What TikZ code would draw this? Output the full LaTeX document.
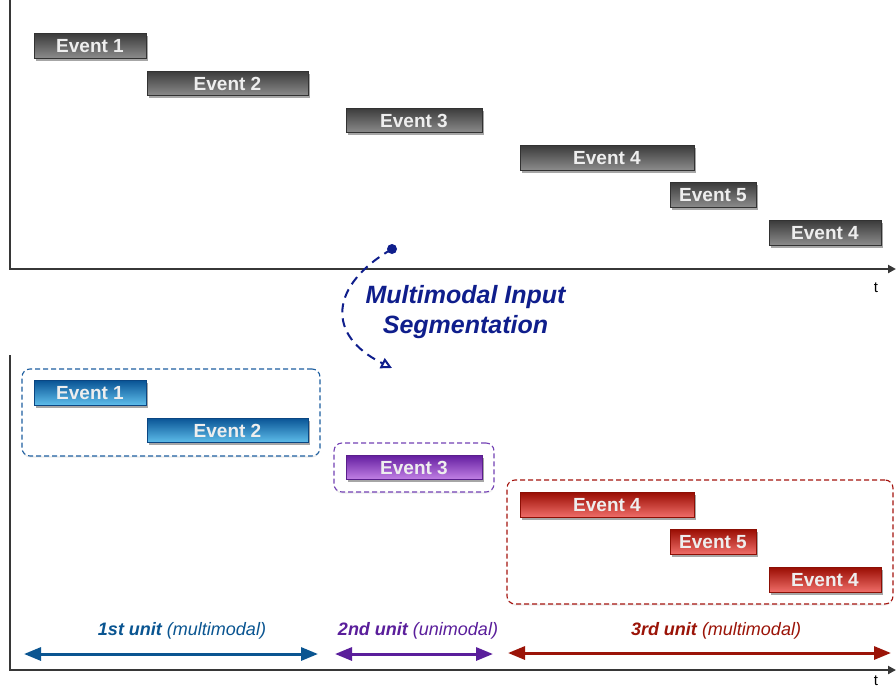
\documentclass[tikz,border=0pt]{standalone}
\usepackage{fontspec}
\setmainfont{Liberation Sans}
\usetikzlibrary{arrows.meta,shadows}
\definecolor{axisc}{RGB}{55,55,55}
\definecolor{grayTop}{RGB}{60,60,60}
\definecolor{grayBot}{RGB}{140,140,140}
\definecolor{grayEdge}{RGB}{50,50,50}
\definecolor{blueTop}{RGB}{10,85,150}
\definecolor{blueBot}{RGB}{95,190,235}
\definecolor{blueEdge}{RGB}{10,70,130}
\definecolor{purTop}{RGB}{100,30,160}
\definecolor{purBot}{RGB}{195,130,230}
\definecolor{purEdge}{RGB}{90,30,140}
\definecolor{redTop}{RGB}{155,15,5}
\definecolor{redBot}{RGB}{240,110,105}
\definecolor{redEdge}{RGB}{140,15,5}
\definecolor{evtext}{RGB}{238,238,238}
\definecolor{blueA}{RGB}{10,85,145}
\definecolor{purA}{RGB}{90,30,155}
\definecolor{redA}{RGB}{155,20,8}
\definecolor{blueBox}{RGB}{30,95,160}
\definecolor{purBox}{RGB}{115,65,180}
\definecolor{redBox}{RGB}{165,20,15}
\definecolor{navy}{RGB}{15,30,140}
\begin{document}
\begin{tikzpicture}[x=1pt,y=-1pt,
  ev/.style={minimum height=24.5pt, inner sep=0pt, line width=0.6pt,
    font=\fontsize{19}{21}\selectfont\bfseries, text=evtext,
    drop shadow={shadow xshift=1.5pt,shadow yshift=-2.5pt,fill=black,opacity=0.35}},
  grayev/.style={ev, top color=grayTop, bottom color=grayBot, draw=grayEdge},
  blueev/.style={ev, top color=blueTop, bottom color=blueBot, draw=blueEdge},
  purev/.style={ev, top color=purTop, bottom color=purBot, draw=purEdge},
  redev/.style={ev, top color=redTop, bottom color=redBot, draw=redEdge},
  segbox/.style={draw, fill=white, dash pattern=on 5pt off 3pt, rounded corners=8pt, line width=1.1pt, inner sep=0pt,
    drop shadow={shadow xshift=0pt,shadow yshift=-1.5pt,fill=black,opacity=0.07}},
  axis/.style={line width=2pt, draw=axisc, -{Triangle[length=8pt,width=8pt]}},
  unitarrow/.style={line width=3pt, {Triangle[length=17pt,width=13pt]}-{Triangle[length=17pt,width=13pt]}},
  unitlabel/.style={font=\fontsize{18}{20}\selectfont\itshape, inner sep=0pt},
  tlabel/.style={font=\fontsize{15}{17}\selectfont, inner sep=0pt}
]
\useasboundingbox (0,0) rectangle (896,688);
\fill[white] (0,0) rectangle (896,688);

% top axes
\coordinate (top1) at (10,0);
\coordinate (o1) at (10,269);
\coordinate (end1) at (896,269);
\draw[axis] (top1) -- (o1) -- (end1);
\node[tlabel] (t1) at (876,288) {t};

% top events
\node[grayev, minimum width=112pt] (g1) at (90,46) {Event 1};
\node[grayev, minimum width=161pt] (g2) at (227.5,83.5) {Event 2};
\node[grayev, minimum width=136pt] (g3) at (414,120.5) {Event 3};
\node[grayev, minimum width=174pt] (g4) at (607,158) {Event 4};
\node[grayev, minimum width=86pt] (g5) at (713,195) {Event 5};
\node[grayev, minimum width=112pt] (g6) at (825,233) {Event 4};

% segmentation
\node[circle, fill=navy, inner sep=0pt, minimum size=10pt] (dot) at (392,249) {};
\coordinate (segend) at (392,368);
\draw[navy, line width=2pt, dash pattern=on 9pt off 6pt, -{Triangle[open,length=11pt,width=11pt]}]
  (dot.center) .. controls (330,285) and (325,335) .. (segend);
\node[font=\fontsize{25}{30}\selectfont\bfseries\itshape, text=navy, align=center, inner sep=0pt] (seg) at (465.5,312) {Multimodal Input\\Segmentation};

% bottom axes
\coordinate (top2) at (10,355);
\coordinate (o2) at (10,670);
\coordinate (end2) at (896,670);
\draw[axis] (top2) -- (o2) -- (end2);
\node[tlabel] (t2) at (876,680.5) {t};

% unit boxes
\node[segbox, draw=blueBox, minimum width=298pt, minimum height=87pt] (u1) at (171,412.5) {};
\node[segbox, draw=purBox, minimum width=160pt, minimum height=49pt] (u2) at (414,467.5) {};
\node[segbox, draw=redBox, minimum width=386pt, minimum height=124pt] (u3) at (700,542) {};

% bottom events
\node[blueev, minimum width=112pt] (b1) at (90,393) {Event 1};
\node[blueev, minimum width=161pt] (b2) at (227.5,430.5) {Event 2};
\node[purev, minimum width=136pt] (b3) at (414,467.5) {Event 3};
\node[redev, minimum width=174pt] (b4) at (607,505) {Event 4};
\node[redev, minimum width=86pt] (b5) at (713,542) {Event 5};
\node[redev, minimum width=112pt] (b6) at (825,580) {Event 4};

% unit arrows
\coordinate (a1l) at (24,654);
\coordinate (a1r) at (318,654);
\coordinate (a2l) at (335,654);
\coordinate (a2r) at (493,654);
\coordinate (a3l) at (508,653);
\coordinate (a3r) at (891,653);
\draw[unitarrow, blueA] (a1l) -- (a1r);
\draw[unitarrow, purA] (a2l) -- (a2r);
\draw[unitarrow, redA] (a3l) -- (a3r);

\node[unitlabel, text=blueA] (l1) at (182,631) {\textbf{1st unit} (multimodal)};
\node[unitlabel, text=purA] (l2) at (418,631) {\textbf{2nd unit} (unimodal)};
\node[unitlabel, text=redA] (l3) at (716,631) {\textbf{3rd unit} (multimodal)};
\end{tikzpicture}
\end{document}
